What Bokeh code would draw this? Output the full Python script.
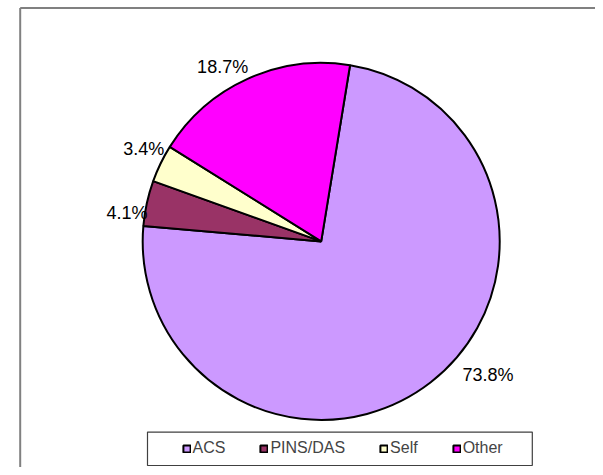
import math
from bokeh.plotting import figure
from bokeh.models import ColumnDataSource, Range1d, Legend, LegendItem
from bokeh.core.properties import value
from bokeh.embed import file_html
from bokeh.resources import INLINE

# ---- data ----
categories = ["ACS", "PINS/DAS", "Self", "Other"]
shares = [73.8, 4.1, 3.4, 18.7]
colors = ["#CC99FF", "#993366", "#FFFFCC", "#FF00FF"]

# ---- layout (pixel-like data space, y up) ----
W, H = 595, 467
cx, cy, R = 320.7, 226.1, 178.5
start_deg_cw_from_top = 9.3
label_r = 205
label_nudge = [(41, -28), (6, 15), (7, -3), (-14, 12)]  # screen px
frame_x, frame_top = 19.7, 459.4

total = sum(shares)
starts, ends, lx, ly, labels = [], [], [], [], []
acc = start_deg_cw_from_top
for v in shares:
    sweep = v / total * 360.0
    a0 = acc
    a1 = acc + sweep
    starts.append(math.radians(90 - a0))
    ends.append(math.radians(90 - a1))
    mid = math.radians(a0 + sweep / 2)
    lx.append(cx + label_r * math.sin(mid))
    ly.append(cy + label_r * math.cos(mid))
    labels.append(f"{v:.1f}%")
    acc = a1

src = ColumnDataSource(dict(cat=categories, val=shares, color=colors,
                            start=starts, end=ends))
lsrc = ColumnDataSource(dict(x=lx, y=ly, text=labels,
                             xo=[n[0] for n in label_nudge],
                             yo=[n[1] for n in label_nudge]))

p = figure(width=W, height=H, output_backend="svg", toolbar_location=None,
           x_range=Range1d(0, W), y_range=Range1d(0, H),
           x_axis_type=None, y_axis_type=None, min_border=0,
           outline_line_color=None, background_fill_color="white",
           border_fill_color="white")
p.grid.visible = False

# outer chart frame (top and left edges visible)
p.segment(x0=[frame_x, frame_x], y0=[0, frame_top], x1=[frame_x, W + 5],
          y1=[frame_top, frame_top], line_color="#808080", line_width=2)

w = p.wedge(x=cx, y=cy, radius=R, start_angle="start", end_angle="end",
            direction="clock", fill_color="color", line_color="black",
            line_width=2, source=src)

p.text(x="x", y="y", text="text", x_offset="xo", y_offset="yo", source=lsrc,
       text_font=value("Liberation Sans"), text_font_size="18px",
       text_align="center", text_baseline="middle", text_color="black")

# legend box
p.quad(left=147, right=531.8, bottom=2, top=35.4, fill_color="white",
       line_color="#404040", line_width=1.2)

items = [LegendItem(label=c, renderers=[w], index=i) for i, c in enumerate(categories)]
legend = Legend(items=items, orientation="horizontal", location=(181.5, 8.7),
                padding=0, margin=0, spacing=34, glyph_width=9, glyph_height=9,
                label_standoff=2, label_text_font="Liberation Sans",
                label_text_font_size="16px", border_line_color=None,
                background_fill_alpha=0, label_height=20)
p.add_layout(legend, "center")

open("out.html", "w").write(file_html(p, INLINE))
